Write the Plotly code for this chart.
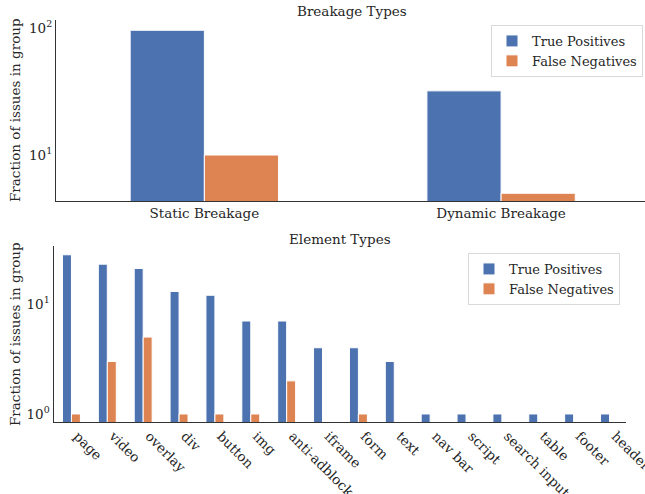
import plotly.graph_objects as go

# Data
breakage_types = ["Static Breakage", "Dynamic Breakage"]
breakage_tp = [96, 32]
breakage_fn = [10, 5]

element_types = ["page", "video", "overlay", "div", "button", "img", "anti-adblock",
                 "iframe", "form", "text", "nav bar", "script", "search input",
                 "table", "footer", "header"]
element_tp = [28, 23, 21, 13, 12, 7, 7, 4, 4, 3, 1, 1, 1, 1, 1, 1]
element_fn = [1, 3, 5, 1, 1, 1, 2, None, 1, None, None, None, None, None, None, None]

BLUE = "#4C72B0"
ORANGE = "#DD8452"
FONT = "DejaVu Serif"
TXT = "#262626"
W, H = 645, 494

fig = go.Figure()
fig.add_trace(go.Bar(x=breakage_types, y=breakage_tp, name="True Positives",
                     marker=dict(color=BLUE, line=dict(color="white", width=1)),
                     xaxis="x", yaxis="y", legend="legend"))
fig.add_trace(go.Bar(x=breakage_types, y=breakage_fn, name="False Negatives",
                     marker=dict(color=ORANGE, line=dict(color="white", width=1)),
                     xaxis="x", yaxis="y", legend="legend"))
fig.add_trace(go.Bar(x=element_types, y=element_tp, name="True Positives",
                     marker=dict(color=BLUE, line=dict(color="white", width=1)),
                     xaxis="x2", yaxis="y2", legend="legend2"))
fig.add_trace(go.Bar(x=element_types, y=element_fn, name="False Negatives",
                     marker=dict(color=ORANGE, line=dict(color="white", width=1)),
                     xaxis="x2", yaxis="y2", legend="legend2"))

def py(p):
    return 1 - p / H

def px(p):
    return p / W

axis_common = dict(showgrid=False, zeroline=False, showline=True, linecolor="#333333",
                   linewidth=1.3, ticks="", automargin=False,
                   tickfont=dict(family=FONT, size=13.5, color=TXT))

fig.update_layout(
    width=W, height=H,
    margin=dict(l=0, r=0, t=0, b=0, autoexpand=False),
    paper_bgcolor="white", plot_bgcolor="white",
    barmode="group", bargap=0.5, bargroupgap=0,
    font=dict(family=FONT, color=TXT),
    xaxis=dict(domain=[px(56), 1], range=[-0.5, 1.485], anchor="y", **axis_common),
    yaxis=dict(domain=[py(201), py(20)], type="log", range=[0.638, 2.063], anchor="x",
               tickvals=[10, 100], ticktext=["10<sup>1</sup>", "10<sup>2</sup>"], **axis_common),
    xaxis2=dict(domain=[px(53.5), px(626)], range=[-0.5, 15.46], anchor="y2",
                tickangle=45, ticklabelshift=6, **axis_common),
    yaxis2=dict(domain=[py(422), py(246)], type="log", range=[-0.073, 1.527], anchor="x2",
                tickvals=[1, 10], ticktext=["10<sup>0</sup>", "10<sup>1</sup>"], **axis_common),
    legend=dict(x=px(643), y=py(25), xanchor="right", yanchor="top",
                bgcolor="white", bordercolor="#d9d9d9", borderwidth=1,
                font=dict(family=FONT, size=13, color=TXT)),
    legend2=dict(x=px(620), y=py(253), xanchor="right", yanchor="top",
                 bgcolor="white", bordercolor="#d9d9d9", borderwidth=1,
                 font=dict(family=FONT, size=13, color=TXT)),
    showlegend=True,
)

def ann(text, x, y, angle=0):
    fig.add_annotation(text=text, x=px(x), y=py(y), xref="paper", yref="paper",
                       xanchor="center", yanchor="middle", textangle=angle,
                       showarrow=False, font=dict(family=FONT, size=13.5, color=TXT))

ann("Breakage Types", 352, 11)
ann("Element Types", 340, 239)
ann("Fraction of issues in group", 15, 110, -90)
ann("Fraction of issues in group", 15, 334, -90)

fig.write_html("out.html", config={"displayModeBar": False},
               post_script="document.body.style.margin='0';document.body.style.padding='0';")
